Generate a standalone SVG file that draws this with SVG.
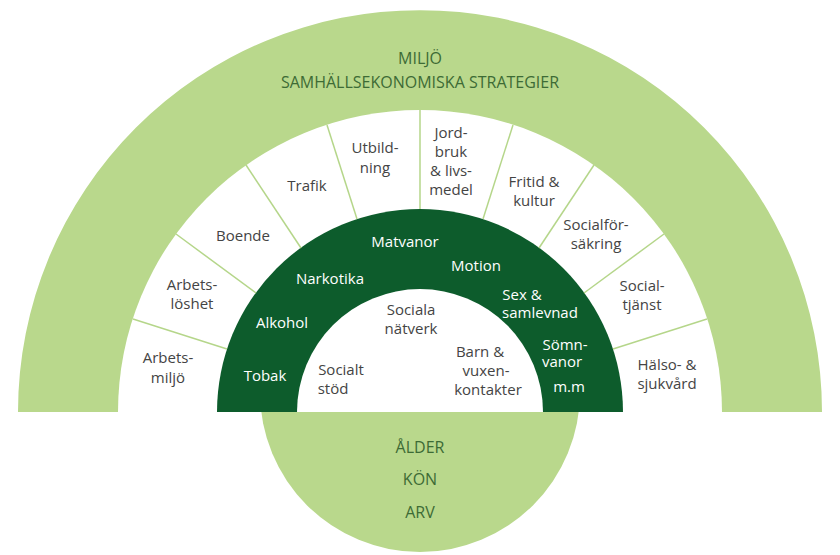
<svg xmlns="http://www.w3.org/2000/svg" width="840" height="555" viewBox="0 0 840 555">
<style>
text{font-family:"Open Sans","Liberation Sans",sans-serif;font-size:15px;text-anchor:middle}
.g{fill:#3d6b35;font-size:16px}
.k{fill:#444}
.w{fill:#fff}
.sep{stroke:#b5d68a;stroke-width:1.5}
</style>
<rect width="840" height="555" fill="#fff"/>
<g id="base">
<circle cx="420" cy="392" r="160" fill="#b9d88c"/>
<path d="M18 412 A402 402 0 0 1 822 412 Z" fill="#b9d88c"/>
<path d="M118 412 A302 302 0 0 1 722 412 Z" fill="#fff"/>
<path d="M217 412 A203 203 0 0 1 623 412 Z" fill="#0d5c2c"/>
<path d="M297 412 A123 123 0 0 1 543 412 Z" fill="#fff"/>
</g>
<g id="connectors">
<line class="sep" x1="133" y1="319" x2="227" y2="349"/>
<line class="sep" x1="176" y1="234" x2="256" y2="293"/>
<line class="sep" x1="246" y1="165" x2="301" y2="248"/>
<line class="sep" x1="327" y1="125" x2="357" y2="219"/>
<line class="sep" x1="420" y1="110" x2="420" y2="209"/>
<line class="sep" x1="513" y1="125" x2="483" y2="219"/>
<line class="sep" x1="594" y1="165" x2="539" y2="248"/>
<line class="sep" x1="664" y1="234" x2="584" y2="293"/>
<line class="sep" x1="707" y1="319" x2="613" y2="349"/>
</g>
<g id="outer">
<text x="420" y="64" class="g">MILJÖ</text>
<text x="420" y="88" class="g">SAMHÄLLSEKONOMISKA STRATEGIER</text>
</g>
<g id="bottom">
<text x="420" y="453" class="g">ÅLDER</text>
<text x="420" y="485" class="g">KÖN</text>
<text x="420" y="518" class="g">ARV</text>
</g>
<g id="ring">
<text class="k" x="168" y="363">Arbets-</text><text class="k" x="168" y="383">miljö</text>
<text class="k" x="192" y="290">Arbets-</text><text class="k" x="192" y="309">löshet</text>
<text class="k" x="243" y="241">Boende</text>
<text class="k" x="307" y="191">Trafik</text>
<text class="k" x="375" y="153">Utbild-</text><text class="k" x="375" y="173">ning</text>
<text class="k" x="451" y="138">Jord-</text><text class="k" x="451" y="157">bruk</text><text class="k" x="451" y="176">&amp; livs-</text><text class="k" x="451" y="195">medel</text>
<text class="k" x="534" y="187">Fritid &amp;</text><text class="k" x="534" y="206">kultur</text>
<text class="k" x="596" y="230">Socialför-</text><text class="k" x="596" y="249">säkring</text>
<text class="k" x="642" y="291">Social-</text><text class="k" x="642" y="310">tjänst</text>
<text class="k" x="667" y="370">Hälso- &amp;</text><text class="k" x="667" y="389">sjukvård</text>
</g>
<g id="dark">
<text class="w" x="405" y="247">Matvanor</text>
<text class="w" x="330" y="284">Narkotika</text>
<text class="w" x="476" y="271">Motion</text>
<text class="w" x="282" y="328">Alkohol</text>
<text class="w" x="522" y="300">Sex &amp;</text><text class="w" x="540" y="318">samlevnad</text>
<text class="w" x="265" y="381">Tobak</text>
<text class="w" x="565" y="350">Sömn-</text><text class="w" x="562" y="367">vanor</text>
<text class="w" x="569" y="392">m.m</text>
</g>
<g id="inner">
<text class="k" x="411" y="315">Sociala</text><text class="k" x="411" y="334">nätverk</text>
<text class="k" x="341" y="375">Socialt</text><text class="k" x="333" y="394">stöd</text>
<text class="k" x="480" y="357">Barn &amp;</text><text class="k" x="486" y="376">vuxen-</text><text class="k" x="488" y="395">kontakter</text>
</g>
</svg>
